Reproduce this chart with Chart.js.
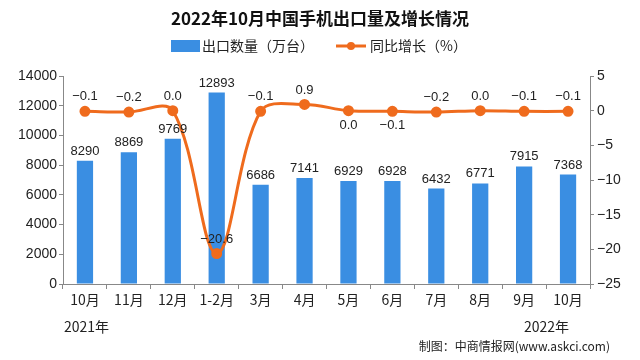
<!DOCTYPE html>
<html>
<head>
<meta charset="utf-8">
<script src="https://cdn.jsdelivr.net/npm/chart.js@4.4.0/dist/chart.umd.min.js"></script>
<style>
  html, body { margin: 0; padding: 0; background: #fff; }
  #wrap { width: 640px; height: 360px; position: relative; }
</style>
</head>
<body>
<div id="wrap"><canvas id="chart" width="640" height="360"></canvas></div>
<script>
// chart data
const months = ['10月', '11月', '12月', '1-2月', '3月', '4月', '5月', '6月', '7月', '8月', '9月', '10月']
const exportVolume = [8290, 8869, 9769, 12893, 6686, 7141, 6929, 6928, 6432, 6771, 7915, 7368]
const yoyGrowth = [-0.1, -0.2, 0.0, -20.6, -0.1, 0.9, 0.0, -0.1, -0.2, 0.0, -0.1, -0.1]
const leftTicks = [0, 2000, 4000, 6000, 8000, 10000, 12000, 14000]
const rightTicks = [-25, -20, -15, -10, -5, 0, 5]

const BLUE = '#3a8ee2'
const ORANGE = '#ef6b1d'
const FONT = "'Noto Sans CJK SC', 'Liberation Sans', sans-serif"
const NUM_FONT = "'Liberation Sans', 'DejaVu Sans', sans-serif"

// labels under the line for these points
const labelBelow = [6, 7]

const extrasPlugin = {
  id: 'extras',
  afterDatasetsDraw(chart) {
    const ctx = chart.ctx
    ctx.save()
    ctx.fillStyle = '#222'
    ctx.textAlign = 'center'

    // bar value labels
    ctx.font = '13px ' + NUM_FONT
    ctx.textBaseline = 'bottom'
    chart.getDatasetMeta(1).data.forEach((bar, i) => {
      ctx.fillText(String(exportVolume[i]), bar.x, bar.y - 3)
    })

    // line value labels
    chart.getDatasetMeta(0).data.forEach((pt, i) => {
      const txt = yoyGrowth[i].toFixed(1).replace('-', '\u2212')
      if (labelBelow.includes(i)) {
        ctx.textBaseline = 'top'
        ctx.fillText(txt, pt.x, pt.y + 8)
      } else {
        ctx.textBaseline = 'bottom'
        ctx.fillText(txt, pt.x, pt.y - 8)
      }
    })
    ctx.restore()
  },
  afterDraw(chart) {
    const ctx = chart.ctx
    ctx.save()
    // title
    ctx.fillStyle = '#111'
    ctx.textAlign = 'center'
    ctx.textBaseline = 'middle'
    ctx.font = 'bold 17px ' + FONT
    ctx.fillText('2022年10月中国手机出口量及增长情况', 320, 19)

    // legend
    ctx.font = '14px ' + FONT
    ctx.textAlign = 'left'
    ctx.fillStyle = BLUE
    ctx.fillRect(171, 40, 29, 12)
    ctx.fillStyle = '#222'
    ctx.fillText('出口数量（万台）', 202, 46)
    ctx.strokeStyle = ORANGE
    ctx.lineWidth = 3
    ctx.beginPath()
    ctx.moveTo(336, 46)
    ctx.lineTo(366, 46)
    ctx.stroke()
    ctx.fillStyle = ORANGE
    ctx.beginPath()
    ctx.arc(351, 46, 4, 0, Math.PI * 2)
    ctx.fill()
    ctx.fillStyle = '#222'
    ctx.fillText('同比增长（%）', 370, 46)

    // year labels + source
    ctx.font = '14px ' + FONT
    ctx.fillText('2021年', 64, 327)
    ctx.fillText('2022年', 524, 327)
    ctx.font = '12px ' + FONT
    ctx.textAlign = 'right'
    ctx.fillText('制图：中商情报网(www.askci.com)', 610, 346)
    ctx.restore()
  }
}

new Chart(document.getElementById('chart'), {
  data: {
    labels: months,
    datasets: [
      {
        type: 'line',
        label: '同比增长（%）',
        data: yoyGrowth,
        yAxisID: 'y1',
        borderColor: ORANGE,
        backgroundColor: ORANGE,
        borderWidth: 3,
        tension: 0.35,
        pointRadius: 4,
        pointBackgroundColor: ORANGE,
        pointBorderColor: ORANGE,
        order: 0
      },
      {
        type: 'bar',
        label: '出口数量（万台）',
        data: exportVolume,
        yAxisID: 'y',
        backgroundColor: BLUE,
        barPercentage: 0.37,
        categoryPercentage: 1,
        order: 1
      }
    ]
  },
  options: {
    responsive: false,
    animation: false,
    devicePixelRatio: 1,
    layout: { padding: { top: 76, left: 0, right: 0, bottom: 0 } },
    plugins: {
      legend: { display: false },
      tooltip: { enabled: false }
    },
    scales: {
      x: {
        offset: true,
        grid: { display: true, offset: true, drawOnChartArea: false, drawTicks: true, tickLength: 5, color: '#888' },
        border: { color: '#888' },
        ticks: { color: '#222', font: { size: 14, family: FONT }, maxRotation: 0, autoSkip: false, padding: 2 },
        afterFit(scale) { scale.height = 76 }
      },
      y: {
        position: 'left',
        min: 0,
        max: 14000,
        afterBuildTicks(scale) { scale.ticks = leftTicks.map(v => ({ value: v })) },
        grid: { display: true, drawOnChartArea: false, drawTicks: true, tickLength: 4, color: '#888' },
        border: { color: '#888' },
        ticks: { color: '#222', font: { size: 14, family: NUM_FONT }, padding: 2, callback: v => String(v) },
        afterFit(scale) { scale.width = 63 }
      },
      y1: {
        position: 'right',
        min: -25,
        max: 5,
        afterBuildTicks(scale) { scale.ticks = rightTicks.map(v => ({ value: v })) },
        grid: { display: true, drawOnChartArea: false, drawTicks: true, tickLength: 4, color: '#888' },
        border: { color: '#888' },
        ticks: {
          color: '#222',
          font: { size: 14, family: NUM_FONT },
          padding: 3,
          callback: v => String(v).replace('-', '\u2212')
        },
        afterFit(scale) { scale.width = 50 }
      }
    }
  },
  plugins: [extrasPlugin]
})
</script>
</body>
</html>
